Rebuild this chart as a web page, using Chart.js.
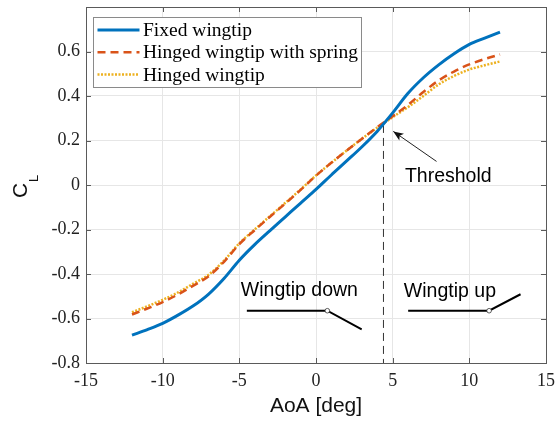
<!DOCTYPE html>
<html><head><meta charset="utf-8">
<script src="https://cdn.jsdelivr.net/npm/chart.js@4.4.1/dist/chart.umd.min.js"></script>
<style>html,body{margin:0;padding:0;background:#fff}#wrap{width:556px;height:424px}</style>
</head><body><div id="wrap"><canvas id="c" width="556" height="424"></canvas></div>
<script>
const aoa = [-12,-11,-10,-9,-8,-7,-6,-5,-4,-3,-2,-1,0,1,2,3,4,5,6,7,8,9,10,11,12];
const fixedCL = [-0.675,-0.650,-0.622,-0.585,-0.543,-0.490,-0.420,-0.338,-0.268,-0.205,-0.143,-0.081,-0.020,0.045,0.108,0.172,0.242,0.324,0.412,0.482,0.540,0.590,0.632,0.660,0.687];
const springCL = [-0.582,-0.555,-0.526,-0.492,-0.452,-0.410,-0.345,-0.266,-0.203,-0.143,-0.083,-0.022,0.042,0.100,0.155,0.208,0.260,0.309,0.360,0.418,0.470,0.510,0.542,0.566,0.587];
const hingedCL = [-0.572,-0.545,-0.516,-0.483,-0.443,-0.403,-0.340,-0.262,-0.200,-0.140,-0.080,-0.020,0.043,0.100,0.155,0.208,0.258,0.305,0.350,0.400,0.452,0.490,0.519,0.538,0.555];
const seriesLabels = ['Fixed wingtip','Hinged wingtip with spring','Hinged wingtip'];
const xTicks = [-15,-10,-5,0,5,10,15];
const yTicks = [-0.8,-0.6,-0.4,-0.2,0,0.2,0.4,0.6,0.8];
const thresholdAoA = 4.4;
const thresholdTopCL = 0.27;
// annotation anchors in data units
const downSymbol = [{x:-4.51,y:-0.565},{x:0.74,y:-0.565},{x:2.98,y:-0.649}];
const upSymbol = [{x:6.01,y:-0.565},{x:11.29,y:-0.565},{x:13.34,y:-0.491}];
const labels = [
  {text:'Wingtip down', x:-4.9, y:-0.473},
  {text:'Wingtip up', x:5.73, y:-0.48},
  {text:'Threshold', x:5.8, y:0.037}
];
const arrow = {from:{x:7.86,y:0.106}, to:{x:5.04,y:0.241}};

const pts = ys => aoa.map((x,i)=>({x, y:ys[i]}));
const AXC = '#5a5a5a';
const noPad = s => { s.paddingTop=0; s.paddingBottom=0; s.paddingLeft=0; s.paddingRight=0; };

const overlay = {
  id:'overlay',
  afterDatasetsDraw(chart){
    const ctx = chart.ctx, xs = chart.scales.x, ys = chart.scales.y;
    const P = p => [xs.getPixelForValue(p.x), ys.getPixelForValue(p.y)];
    ctx.save();
    [downSymbol, upSymbol].forEach(sym=>{
      ctx.strokeStyle='#000'; ctx.lineWidth=2; ctx.beginPath();
      sym.forEach((p,i)=>{const [a,b]=P(p); i?ctx.lineTo(a,b):ctx.moveTo(a,b);});
      ctx.stroke();
      const [hx,hy]=P(sym[1]);
      ctx.beginPath(); ctx.arc(hx,hy,2.3,0,Math.PI*2); ctx.fillStyle='#fff'; ctx.fill();
      ctx.lineWidth=0.8; ctx.strokeStyle='#333'; ctx.stroke();
    });
    ctx.fillStyle='#000'; ctx.font='19.5px "Liberation Sans", Arial, sans-serif';
    ctx.textAlign='left'; ctx.textBaseline='middle';
    labels.forEach(l=>{const [a,b]=P(l); ctx.fillText(l.text,a,b);});
    const [fx,fy]=P(arrow.from), [tx,ty]=P(arrow.to);
    ctx.strokeStyle='#222'; ctx.lineWidth=1;
    ctx.beginPath(); ctx.moveTo(fx,fy); ctx.lineTo(tx,ty); ctx.stroke();
    const ang=Math.atan2(ty-fy,tx-fx), L=11, w=0.38;
    ctx.beginPath(); ctx.moveTo(tx,ty);
    ctx.lineTo(tx-L*Math.cos(ang-w), ty-L*Math.sin(ang-w));
    ctx.lineTo(tx-L*0.7*Math.cos(ang), ty-L*0.7*Math.sin(ang));
    ctx.lineTo(tx-L*Math.cos(ang+w), ty-L*Math.sin(ang+w));
    ctx.closePath(); ctx.fillStyle='#111'; ctx.fill();
    // legend
    const lx=93.5, ly=17.5, lw=268, lh=70;
    ctx.fillStyle='#fff'; ctx.fillRect(lx,ly,lw,lh);
    ctx.strokeStyle='#8a8a8a'; ctx.lineWidth=1; ctx.strokeRect(lx,ly,lw,lh);
    ctx.font='19.5px "Liberation Serif", "Times New Roman", serif';
    ctx.textBaseline='middle'; ctx.textAlign='left';
    chart.data.datasets.slice(0,3).forEach((ds,i)=>{
      const yy = ly + 12.5 + i*22.2;
      ctx.strokeStyle=ds.borderColor; ctx.lineWidth=ds.borderWidth;
      ctx.setLineDash(ds.borderDash||[]);
      ctx.beginPath(); ctx.moveTo(lx+4,yy); ctx.lineTo(lx+46,yy); ctx.stroke();
      ctx.setLineDash([]);
      ctx.fillStyle='#000'; ctx.fillText(ds.label, lx+49.5, yy+1);
    });
    ctx.restore();
  },
  afterDraw(chart){
    const ctx = chart.ctx, xs = chart.scales.x, ys = chart.scales.y, ca = chart.chartArea;
    ctx.save();
    ctx.strokeStyle=AXC; ctx.lineWidth=1;
    ctx.strokeRect(Math.round(ca.left)+0.5, Math.round(ca.top)+0.5, Math.round(ca.right-ca.left), Math.round(ca.bottom-ca.top));
    const T=5;
    ctx.beginPath();
    xTicks.forEach(v=>{const px=Math.round(xs.getPixelForValue(v))+0.5;
      ctx.moveTo(px,ca.bottom); ctx.lineTo(px,ca.bottom-T);
      ctx.moveTo(px,ca.top); ctx.lineTo(px,ca.top+T);});
    yTicks.forEach(v=>{const py=Math.round(ys.getPixelForValue(v))+0.5;
      ctx.moveTo(ca.left,py); ctx.lineTo(ca.left+T,py);
      ctx.moveTo(ca.right,py); ctx.lineTo(ca.right-T,py);});
    ctx.stroke();
    ctx.fillStyle='#111';
    ctx.font='21px "Liberation Sans", Arial, sans-serif';
    ctx.textAlign='center'; ctx.textBaseline='middle';
    ctx.fillText('AoA [deg]', (ca.left+ca.right)/2, 406);
    ctx.translate(27, (ca.top+ca.bottom)/2+13);
    ctx.rotate(-Math.PI/2);
    ctx.textAlign='left'; ctx.textBaseline='alphabetic';
    ctx.font='21px "Liberation Sans", Arial, sans-serif';
    ctx.fillText('C',0,0);
    ctx.font='13px "Liberation Sans", Arial, sans-serif';
    ctx.fillText('L',16,11);
    ctx.restore();
  }
};

new Chart(document.getElementById('c'), {
  type:'line',
  data:{datasets:[
    {label:seriesLabels[0], data:pts(fixedCL), borderColor:'#0072BD', borderWidth:3, pointRadius:0, cubicInterpolationMode:'monotone'},
    {label:seriesLabels[1], data:pts(springCL), borderColor:'#D95319', borderWidth:2.5, borderDash:[8,5], pointRadius:0, cubicInterpolationMode:'monotone'},
    {label:seriesLabels[2], data:pts(hingedCL), borderColor:'#EDB120', borderWidth:2.5, borderDash:[2,1.5], pointRadius:0, cubicInterpolationMode:'monotone'},
    {label:'threshold', data:[{x:thresholdAoA,y:thresholdTopCL},{x:thresholdAoA,y:-0.8}], borderColor:'#333', borderWidth:1, borderDash:[8,5], pointRadius:0}
  ]},
  options:{
    responsive:false, animation:false, devicePixelRatio:1,
    layout:{padding:{top:7,right:10,left:0,bottom:0}},
    plugins:{legend:{display:false}, tooltip:{enabled:false}},
    scales:{
      x:{type:'linear', min:-15, max:15,
        afterFit:s=>{s.height=61; noPad(s);},
        afterBuildTicks:s=>{s.ticks=xTicks.map(v=>({value:v}));},
        grid:{color:'#e6e6e6', drawTicks:false},
        border:{display:false},
        ticks:{padding:7, color:'#222', maxRotation:0, font:{family:'"Liberation Serif", serif', size:18}, callback:v=>String(v)}},
      y:{type:'linear', min:-0.8, max:0.8,
        afterFit:s=>{s.width=86; noPad(s);},
        afterBuildTicks:s=>{s.ticks=yTicks.map(v=>({value:v}));},
        grid:{color:'#e6e6e6', drawTicks:false},
        border:{display:false},
        ticks:{padding:6, color:'#222', font:{family:'"Liberation Serif", serif', size:18},
          callback:v=> Math.abs(v-0.8)<1e-9 ? '' : (Math.abs(v)<1e-9 ? '0' : v.toFixed(1))}}
    }
  },
  plugins:[overlay]
});
</script></body></html>
